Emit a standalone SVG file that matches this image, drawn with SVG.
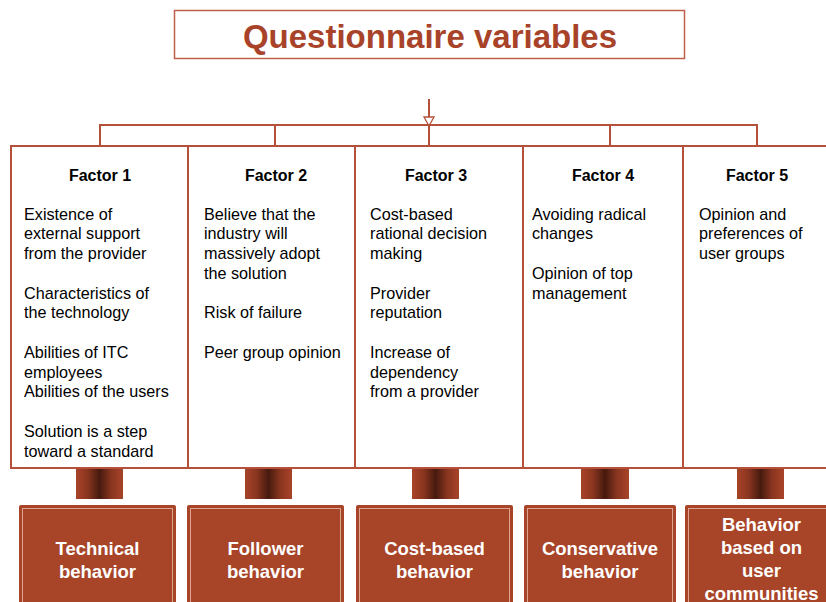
<svg xmlns="http://www.w3.org/2000/svg" width="826" height="602" viewBox="0 0 826 602">
<defs>
<linearGradient id="stem" x1="0" y1="0" x2="1" y2="0">
<stop offset="0" stop-color="#a84428"/>
<stop offset="0.25" stop-color="#8a3520"/>
<stop offset="0.5" stop-color="#461a0e"/>
<stop offset="0.75" stop-color="#8a3520"/>
<stop offset="1" stop-color="#a84428"/>
</linearGradient>
<marker id="tri" viewBox="0 0 10 10" refX="5" refY="10" markerWidth="10" markerHeight="10" markerUnits="userSpaceOnUse" orient="auto">
<path d="M0,0 L10,0 L5,9 Z" fill="#fff" stroke="#b5503a" stroke-width="1.3"/>
</marker>
<style>
.conn{stroke:#b5503a;stroke-width:2;fill:none}
.fbox{fill:#fff;stroke:#b5503a;stroke-width:2}
.hdr{font-family:"Liberation Sans",Arial,sans-serif;font-weight:bold;font-size:16px;fill:#000;text-anchor:middle}
.body{font-family:"Liberation Sans",Arial,sans-serif;font-size:16.2px;fill:#000}
.bbox{fill:#a84428}
.bin{fill:none;stroke:#e9b4a4;stroke-width:1;opacity:0.85}
.btxt{font-family:"Liberation Sans",Arial,sans-serif;font-weight:bold;font-size:18.5px;fill:#fff;text-anchor:middle}
</style>
</defs>
<rect width="826" height="602" fill="#fff"/>

<g id="title">
<rect x="174.5" y="10.5" width="510" height="48" fill="#fff" stroke="#c0604a" stroke-width="1.5"/>
<text x="430" y="47.5" font-family="Liberation Sans,Arial,sans-serif" font-weight="bold" font-size="33" fill="#a8432a" text-anchor="middle">Questionnaire variables</text>
</g>

<g id="connectors">
<line class="conn" x1="429" y1="99" x2="429" y2="147"/>
<path d="M424,117 L434,117 L429,126 Z" fill="#fff" stroke="#b5503a" stroke-width="1.3"/>
<line class="conn" x1="100" y1="125" x2="757" y2="125"/>
<line class="conn" x1="100" y1="124" x2="100" y2="147"/>
<line class="conn" x1="275" y1="124" x2="275" y2="148"/>
<line class="conn" x1="610" y1="124" x2="610" y2="148"/>
<line class="conn" x1="757" y1="124" x2="757" y2="147"/>
<rect x="76" y="468" width="47" height="31" fill="url(#stem)"/>
<rect x="245" y="468" width="47" height="31" fill="url(#stem)"/>
<rect x="412" y="468" width="47" height="31" fill="url(#stem)"/>
<rect x="581" y="468" width="48" height="31" fill="url(#stem)"/>
<rect x="737" y="468" width="47" height="31" fill="url(#stem)"/>
</g>

<g id="factor1">
<rect class="fbox" x="11" y="146" width="177" height="322"/>
<text class="hdr" x="100" y="180.5">Factor 1</text>
<text class="body"><tspan x="24" y="219.5">Existence of</tspan><tspan x="24" y="239.3">external support</tspan><tspan x="24" y="259">from the provider</tspan><tspan x="24" y="298.5">Characteristics of</tspan><tspan x="24" y="318.3">the technology</tspan><tspan x="24" y="357.8">Abilities of ITC</tspan><tspan x="24" y="377.5">employees</tspan><tspan x="24" y="397.3">Abilities of the users</tspan><tspan x="24" y="436.8">Solution is a step</tspan><tspan x="24" y="456.5">toward a standard</tspan></text>
</g>

<g id="factor2">
<rect class="fbox" x="188" y="146" width="167" height="322"/>
<text class="hdr" x="276" y="180.5">Factor 2</text>
<text class="body"><tspan x="204" y="219.5">Believe that the</tspan><tspan x="204" y="239.3">industry will</tspan><tspan x="204" y="259">massively adopt</tspan><tspan x="204" y="278.8">the solution</tspan><tspan x="204" y="318.3">Risk of failure</tspan><tspan x="204" y="357.8">Peer group opinion</tspan></text>
</g>

<g id="factor3">
<rect class="fbox" x="355" y="146" width="168" height="322"/>
<text class="hdr" x="436" y="180.5">Factor 3</text>
<text class="body"><tspan x="370" y="219.5">Cost-based</tspan><tspan x="370" y="239.3">rational decision</tspan><tspan x="370" y="259">making</tspan><tspan x="370" y="298.5">Provider</tspan><tspan x="370" y="318.3">reputation</tspan><tspan x="370" y="357.8">Increase of</tspan><tspan x="370" y="377.5">dependency</tspan><tspan x="370" y="397.3">from a provider</tspan></text>
</g>

<g id="factor4">
<rect class="fbox" x="523" y="146" width="160" height="322"/>
<text class="hdr" x="603" y="180.5">Factor 4</text>
<text class="body"><tspan x="532" y="219.5">Avoiding radical</tspan><tspan x="532" y="239.3">changes</tspan><tspan x="532" y="278.8">Opinion of top</tspan><tspan x="532" y="298.5">management</tspan></text>
</g>

<g id="factor5">
<rect class="fbox" x="683" y="146" width="160" height="322"/>
<text class="hdr" x="757" y="180.5">Factor 5</text>
<text class="body"><tspan x="699" y="219.5">Opinion and</tspan><tspan x="699" y="239.3">preferences of</tspan><tspan x="699" y="259">user groups</tspan></text>
</g>

<g id="behavior1">
<rect class="bbox" x="19" y="505" width="157" height="110" rx="2"/>
<rect class="bin" x="22.5" y="508.5" width="150" height="110"/>
<text class="btxt"><tspan x="97.5" y="554.5">Technical</tspan><tspan x="97.5" y="577.5">behavior</tspan></text>
</g>

<g id="behavior2">
<rect class="bbox" x="187" y="505" width="157" height="110" rx="2"/>
<rect class="bin" x="190.5" y="508.5" width="150" height="110"/>
<text class="btxt"><tspan x="265.5" y="554.5">Follower</tspan><tspan x="265.5" y="577.5">behavior</tspan></text>
</g>

<g id="behavior3">
<rect class="bbox" x="356" y="505" width="157" height="110" rx="2"/>
<rect class="bin" x="359.5" y="508.5" width="150" height="110"/>
<text class="btxt"><tspan x="434.5" y="554.5">Cost-based</tspan><tspan x="434.5" y="577.5">behavior</tspan></text>
</g>

<g id="behavior4">
<rect class="bbox" x="524" y="505" width="152" height="110" rx="2"/>
<rect class="bin" x="527.5" y="508.5" width="145" height="110"/>
<text class="btxt"><tspan x="600" y="554.5">Conservative</tspan><tspan x="600" y="577.5">behavior</tspan></text>
</g>

<g id="behavior5">
<rect class="bbox" x="685" y="505" width="155" height="110" rx="2"/>
<rect class="bin" x="688.5" y="508.5" width="148" height="110"/>
<text class="btxt"><tspan x="761.5" y="530.5">Behavior</tspan><tspan x="761.5" y="553.5">based on</tspan><tspan x="761.5" y="576.5">user</tspan><tspan x="761.5" y="599.5">communities</tspan></text>
</g>
</svg>
